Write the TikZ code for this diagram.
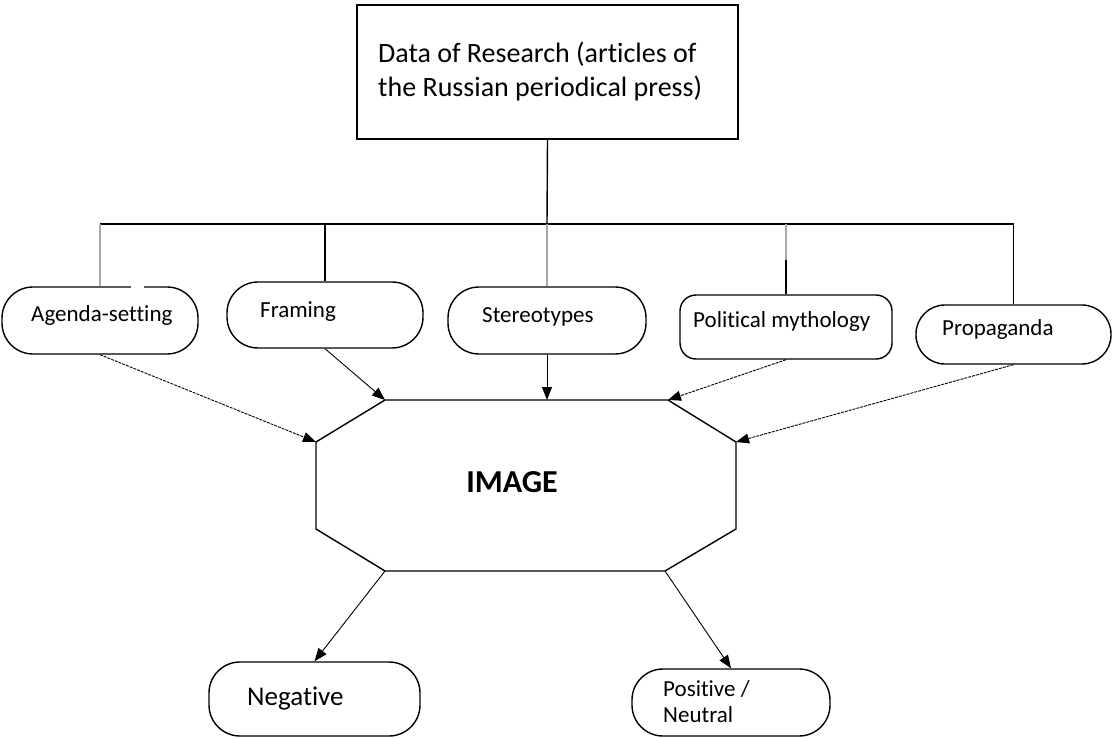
\documentclass[tikz,border=0pt]{standalone}
\usepackage{fontspec}
\setmainfont{Carlito}[Ligatures=NoCommon]
\usetikzlibrary{arrows.meta}
\definecolor{lightline}{HTML}{A8A8A8}
\begin{document}
\begin{tikzpicture}[x=1pt,y=-1pt,
  box/.style={draw, line width=1.4pt, rounded corners=31pt, inner sep=0pt},
  sqbox/.style={draw, line width=1.4pt, inner sep=0pt},
  lbl/.style={anchor=base west, inner sep=0pt, font=\fontsize{23}{27}\selectfont},
  link/.style={line width=1.4pt},
  graylink/.style={line width=1.4pt, lightline},
  arr/.style={line width=0.9pt, -{Triangle[length=13pt,width=10pt]}},
  darr/.style={arr, dash pattern=on 3pt off 1pt},
]
\useasboundingbox (0,0) rectangle (1112,738);

% top box
\node[sqbox, minimum width=381pt, minimum height=134pt] (data) at (547.5,72) {};
\node[anchor=base west, inner sep=0pt, align=left, font=\fontsize{28}{34}\selectfont] (datatxt) at (378,97) {Data of Research (articles of\\the Russian periodical press)};

% method boxes
\node[box, minimum width=196pt, minimum height=67pt] (agenda) at (100,320.5) {};
\node[box, minimum width=196pt, minimum height=66pt] (framing) at (325,315) {};
\node[box, minimum width=198pt, minimum height=67pt] (stereo) at (547,320.5) {};
\node[box, rounded corners=16pt, minimum width=212pt, minimum height=64pt] (polit) at (786,327) {};
\node[box, rounded corners=29pt, minimum width=195pt, minimum height=59pt] (propa) at (1013.5,334.5) {};
\draw[white, line width=3pt] (131,287) -- (144,287);

\node[lbl] (agendatxt) at (31,322) {Agenda-setting};
\node[lbl] (framingtxt) at (260,318) {Framing};
\node[lbl] (stereotxt) at (482,323) {Stereotypes};
\node[lbl] (polittxt) at (693,327) {Political mythology};
\node[lbl] (propatxt) at (942,335) {Propaganda};

% bus
\coordinate (bus) at (547,224);
\draw[link] (data.south) -- (bus);
\draw[link] (agenda.north |- bus) -- (propa.north |- bus);
\draw[graylink] (agenda.north |- bus) -- (agenda.north);
\draw[link] (framing.north |- bus) -- (framing.north);
\draw[graylink] (stereo.north |- bus) -- (stereo.north);
\coordinate (pmid) at (786,260);
\draw[graylink] (polit.north |- bus) -- (pmid);
\draw[link] (pmid) -- (polit.north);
\draw[link] (propa.north |- bus) -- (propa.north);

% IMAGE octagon
\coordinate (o1) at (385,400);
\coordinate (o2) at (668,400);
\coordinate (o3) at (736,442);
\coordinate (o4) at (736,529);
\coordinate (o5) at (665,571);
\coordinate (o6) at (385,571);
\coordinate (o7) at (316,529);
\coordinate (o8) at (316,442);
\draw[link] (o1) -- (o2) -- (o3) -- (o4) -- (o5) -- (o6) -- (o7) -- (o8) -- cycle;
\node[inner sep=0pt, font=\fontsize{32}{36}\selectfont\bfseries] (img) at (512,482) {IMAGE};

% arrows into IMAGE
\draw[darr] (agenda.south) -- (o8);
\draw[arr] (framing.south) -- (o1);
\draw[arr] (stereo.south) -- (stereo.south |- o1);
\draw[darr] (polit.south) -- (o2);
\draw[darr] (propa.south) -- (o3);

% result boxes
\node[box, minimum width=211pt, minimum height=74pt] (neg) at (314.5,699) {};
\node[box, minimum width=198pt, minimum height=67pt] (pos) at (731,702.5) {};
\node[lbl, font=\fontsize{27}{32}\selectfont] (negtxt) at (247,705) {Negative};
\node[lbl, align=left, font=\fontsize{23}{26}\selectfont] (postxt) at (663,722) {Positive /\\Neutral};

\draw[arr] (o6) -- (neg.north);
\draw[arr] (o5) -- (pos.north);
\end{tikzpicture}
\end{document}
